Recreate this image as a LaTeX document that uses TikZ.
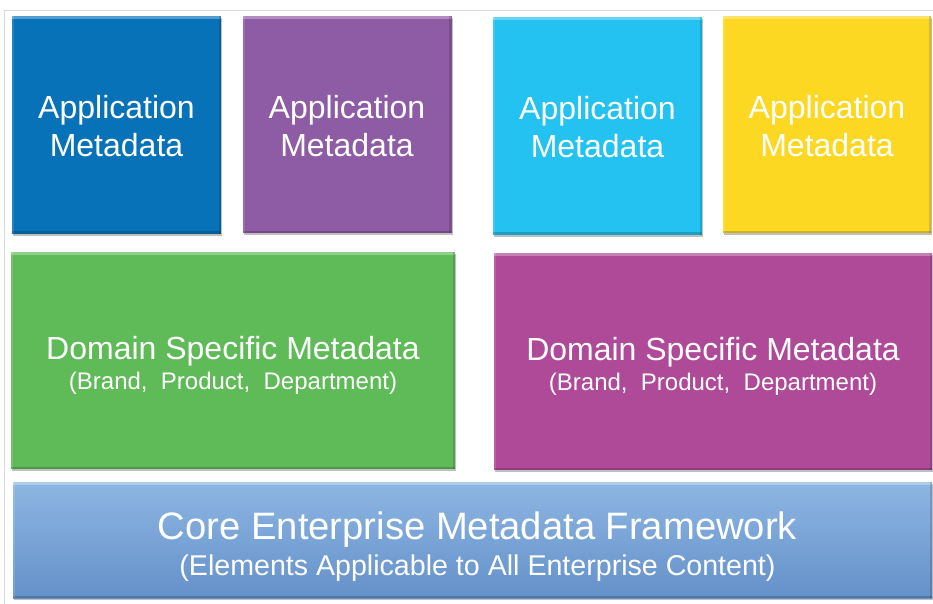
\documentclass[tikz,border=0pt]{standalone}
\usepackage{fontspec}
\setmainfont{Liberation Sans}
\usetikzlibrary{shadows}
\definecolor{cblue}{HTML}{0872B9}
\definecolor{cpurple}{HTML}{8E5BA5}
\definecolor{ccyan}{HTML}{24C2F0}
\definecolor{cyellow}{HTML}{FDD822}
\definecolor{cgreen}{HTML}{5FBB58}
\definecolor{cmagenta}{HTML}{AE4A98}
\definecolor{ccoretop}{HTML}{8DB6E2}
\definecolor{ccorebot}{HTML}{6591CA}
\definecolor{cframe}{HTML}{D9D9D9}
\newcommand{\topgap}[1]{\rule{0pt}{#1}}
\tikzset{
  tile/.style={draw=none, text=white, align=center, inner sep=0pt,
    drop shadow={shadow xshift=1pt, shadow yshift=-2pt, opacity=0.25, fill=black},
    path picture={
      \fill[white,opacity=0.30] (path picture bounding box.north west) rectangle ([yshift=-3pt]path picture bounding box.north east);
      \fill[black,opacity=0.18] (path picture bounding box.south west) rectangle ([yshift=2.5pt]path picture bounding box.south east);
      \fill[black,opacity=0.14] ([xshift=-2.5pt]path picture bounding box.north east) rectangle (path picture bounding box.south east);
      \fill[white,opacity=0.12] (path picture bounding box.north west) rectangle ([xshift=2pt]path picture bounding box.south west);
    }},
  apptile/.style={tile, minimum width=209pt, minimum height=217pt,
    font=\fontsize{32}{38}\selectfont},
  domaintile/.style={tile, minimum height=217pt,
    font=\fontsize{24}{30}\selectfont},
  coretile/.style={tile, minimum width=919pt, minimum height=116pt,
    top color=ccoretop, bottom color=ccorebot,
    font=\fontsize{28.6}{36}\selectfont},
  frameline/.style={draw=cframe, line width=1pt}
}
\begin{document}
\begin{tikzpicture}[x=1pt,y=-1pt]
\useasboundingbox[fill=white] (0,0) rectangle (933,604);
\coordinate (fa) at (933,11);
\coordinate (fb) at (4.5,11);
\coordinate (fc) at (4.5,604);
\draw[frameline] (fa) -- (fb) -- (fc);

\node[apptile, fill=cblue]   (app1) at (116.5,125) {\topgap{26pt}Application\\Metadata};
\node[apptile, fill=cpurple] (app2) at (347,124.5)   {\topgap{26pt}Application\\Metadata};
\node[apptile, fill=ccyan]   (app3) at (597.5,126) {\topgap{26pt}Application\\Metadata};
\node[apptile, fill=cyellow, minimum width=208pt] (app4) at (827,124.5) {\topgap{26pt}Application\\Metadata};

\node[domaintile, fill=cgreen, minimum width=444pt] (dom1) at (233,360.5)
  {{\fontsize{32}{30}\selectfont\topgap{33.5pt}Domain Specific Metadata}\\(Brand,\ \ Product,\ \ Department)};
\node[domaintile, fill=cmagenta, minimum width=438pt] (dom2) at (713,361.5)
  {{\fontsize{32}{30}\selectfont\topgap{33.5pt}Domain Specific Metadata}\\(Brand,\ \ Product,\ \ Department)};

\node[coretile] (core) at (472.5,540)
  {{\fontsize{38.2}{36}\selectfont\topgap{41pt}\hspace*{10pt}Core Enterprise Metadata Framework}\\\hspace*{10pt}(Elements Applicable to All Enterprise Content)};
\end{tikzpicture}
\end{document}
